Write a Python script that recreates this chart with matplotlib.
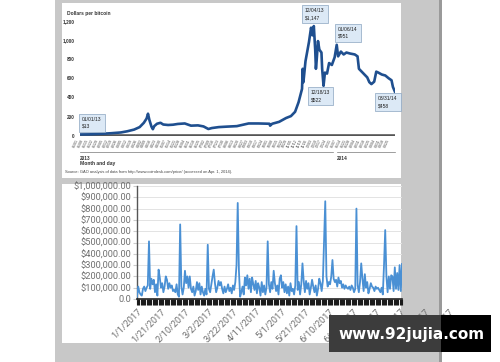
import pandas as pd
import matplotlib.pyplot as plt
import matplotlib.dates as mdates
from matplotlib.patches import Rectangle
from matplotlib.ticker import FuncFormatter

# Top chart: bitcoin price 2013-2014 (dollars per bitcoin)
btc_dates = ['2013-01-01', '2013-01-15', '2013-02-01', '2013-02-15', '2013-03-01', '2013-03-10',
             '2013-03-20', '2013-03-28', '2013-04-03', '2013-04-07', '2013-04-09', '2013-04-11',
             '2013-04-14', '2013-04-16', '2013-04-18', '2013-04-22', '2013-04-27', '2013-05-01',
             '2013-05-08', '2013-05-15', '2013-05-22', '2013-06-01', '2013-06-10', '2013-06-20',
             '2013-06-28', '2013-07-05', '2013-07-10', '2013-07-20', '2013-08-01', '2013-08-15',
             '2013-09-01', '2013-09-15', '2013-10-01', '2013-10-02', '2013-10-05', '2013-10-15',
             '2013-10-25', '2013-11-01', '2013-11-07', '2013-11-12', '2013-11-17', '2013-11-18',
             '2013-11-19', '2013-11-22', '2013-11-27', '2013-11-30', '2013-12-02', '2013-12-04',
             '2013-12-06', '2013-12-07', '2013-12-08', '2013-12-10', '2013-12-12', '2013-12-15',
             '2013-12-16', '2013-12-18', '2013-12-20', '2013-12-23', '2013-12-26', '2013-12-30',
             '2014-01-03', '2014-01-06', '2014-01-08', '2014-01-12', '2014-01-16', '2014-01-20',
             '2014-01-25', '2014-02-01', '2014-02-05', '2014-02-07', '2014-02-11', '2014-02-15',
             '2014-02-19', '2014-02-22', '2014-02-25', '2014-03-01', '2014-03-04', '2014-03-07',
             '2014-03-12', '2014-03-17', '2014-03-22', '2014-03-26', '2014-03-28', '2014-03-31']
btc_price = [13, 14, 20, 26, 34, 46,
             64, 90, 135, 180, 230, 165,
             95, 68, 100, 125, 135, 117,
             112, 115, 123, 128, 105, 108,
             97, 70, 80, 90, 95, 100,
             128, 128, 125, 105, 125, 145,
             185, 205, 250, 350, 490, 700,
             560, 780, 980, 1130, 1050, 1147,
             900, 700, 780, 990, 900, 870,
             700, 522, 660, 650, 760, 740,
             820, 951, 830, 880, 850, 870,
             860, 850, 830, 700, 670, 640,
             610, 560, 540, 565, 670, 660,
             640, 630, 600, 580, 510, 458]
btc_yticks = [0, 200, 400, 600, 800, 1000, 1200]
callouts = [('01/01/13', '$13'), ('12/04/13', '$1,147'), ('01/06/14', '$951'),
            ('12/18/13', '$522'), ('03/31/14', '$458')]

# Bottom chart: daily amounts from 1/1/2017 (thousands of dollars)
daily_k = [20, 110, 60, 40, 30, 90, 110, 70, 100, 120,
           510, 90, 180, 130, 170, 60, 130, 30, 260, 190,
           100, 140, 60, 110, 200, 170, 90, 140, 100, 120,
           70, 80, 60, 130, 40, 20, 660, 110, 40, 100,
           250, 140, 200, 100, 200, 90, 60, 110, 30, 70,
           150, 80, 140, 40, 110, 60, 30, 90, 40, 480,
           90, 60, 130, 200, 260, 140, 60, 100, 160, 120,
           150, 90, 50, 110, 60, 90, 130, 70, 100, 50,
           120, 80, 150, 300, 850, 250, 20, 60, 110, 40,
           190, 120, 210, 90, 180, 60, 190, 130, 80, 160,
           50, 140, 100, 30, 150, 60, 120, 40, 100, 510,
           130, 60, 150, 90, 250, 140, 70, 120, 40, 180,
           210, 100, 150, 60, 130, 50, 110, 30, 140, 70,
           90, 40, 120, 645, 80, 150, 40, 130, 315, 160,
           60, 160, 90, 140, 40, 100, 170, 110, 60, 120,
           30, 90, 180, 140, 70, 160, 500, 865, 200, 110,
           150, 130, 200, 345, 180, 150, 170, 110, 190, 140,
           160, 100, 130, 90, 120, 100, 90, 110, 80, 120,
           100, 60, 90, 800, 120, 60, 150, 315, 180, 70,
           220, 100, 150, 50, 90, 140, 110, 100, 70, 110,
           90, 100, 80, 60, 100, 40, 300, 610, 200, 60,
           200, 90, 210, 200, 70, 280, 90, 230, 80, 300,
           70, 310]
label_dates = pd.date_range('2017-01-01', periods=14, freq='20D')

W, H = 500, 362
fig = plt.figure(figsize=(5, 3.62), dpi=100)


def box(x0, y0, x1, y1, color, z):
    fig.patches.append(Rectangle((x0 / W, 1 - y1 / H), (x1 - x0) / W, (y1 - y0) / H,
                                 transform=fig.transFigure, facecolor=color,
                                 edgecolor='none', zorder=z))


# gray frame and white panels
box(55, 0, 441, 362, '#c8c8c8', -10)
box(439, 0, 442, 362, '#9a9a9a', -9)
box(62, 3, 401, 178, 'white', -8)
box(62, 184, 401, 343, 'white', -8)

# ---------------- top chart ----------------
ax1 = fig.add_axes([80 / W, 1 - 135.7 / H, 315 / W, 114.7 / H])
ax1.set_facecolor('none')
d1 = pd.to_datetime(btc_dates)
ax1.plot(d1, btc_price, color='#1f4f8f', lw=1.9, solid_joinstyle='round', zorder=3)
ax1.axhline(0, color='#555555', lw=2.6, zorder=2)
ax1.set_xlim(pd.Timestamp('2013-01-01'), pd.Timestamp('2014-03-31'))
ax1.set_ylim(0, 1200)
ax1.set_yticks(btc_yticks)
ax1.set_yticklabels([f'{v:,}' for v in btc_yticks], fontsize=3.4, fontweight='bold',
                    color='#333333', family='Liberation Sans')
ax1.tick_params(axis='y', length=0, pad=4)
weeks = pd.date_range('2013-01-01', '2014-03-31', freq='7D')
ax1.set_xticks(weeks)
ax1.set_xticklabels(weeks.strftime('%m/%d'), rotation=65, ha='right', fontsize=2.6,
                    color='#444444', family='Liberation Sans')
ax1.tick_params(axis='x', length=0, pad=2)
for s in ax1.spines.values():
    s.set_visible(False)

xt = ax1.get_xaxis_transform()
ax1.plot([pd.Timestamp('2013-01-01'), pd.Timestamp('2013-12-31')], [-0.142, -0.142],
         transform=xt, clip_on=False, color='#777777', lw=0.5)
ax1.plot([pd.Timestamp('2014-01-06'), pd.Timestamp('2014-03-31')], [-0.142, -0.142],
         transform=xt, clip_on=False, color='#777777', lw=0.5)
ax1.text(pd.Timestamp('2013-01-01'), -0.18, '2013', transform=xt, fontsize=3.4,
         fontweight='bold', color='#333333', va='top', family='Liberation Sans')
ax1.text(pd.Timestamp('2014-01-06'), -0.18, '2014', transform=xt, fontsize=3.4,
         fontweight='bold', color='#333333', va='top', family='Liberation Sans')
fig.text(80 / W, 1 - 164 / H, 'Month and day', fontsize=3.6, fontweight='bold',
         color='#333333', va='center', family='Liberation Sans')
fig.text(65 / W, 1 - 172 / H,
         'Source: GAO analysis of data from http://www.coindesk.com/price/ (accessed on Apr. 1, 2014).',
         fontsize=2.9, color='#444444', va='center', family='Liberation Sans')
fig.text(67 / W, 1 - 13 / H, 'Dollars per bitcoin', fontsize=3.5, fontweight='bold',
         color='#333333', va='center', family='Liberation Sans')

callout_pos = [(82, 117), (305, 8), (338, 27), (311, 90), (378, 96)]
for (dt, val), (px, py) in zip(callouts, callout_pos):
    fig.text(px / W, 1 - py / H, f'{dt}\n{val}', fontsize=3.6, color='#222222',
             va='top', ha='left', linespacing=1.5, family='Liberation Sans',
             bbox=dict(boxstyle='square,pad=0.6', facecolor='#dce9f6',
                       edgecolor='#8aa4c0', lw=0.5))

# ---------------- bottom chart ----------------
ax2 = fig.add_axes([137 / W, 1 - 299 / H, 265 / W, 113 / H])
ax2.set_facecolor('none')
d2 = pd.date_range('2017-01-01', periods=len(daily_k), freq='D')
vals = [v * 1000 for v in daily_k]
ax2.plot(d2, vals, color='#4a90d4', lw=1.3, zorder=3)
ax2.set_xlim(d2[0], d2[-1])
ax2.set_ylim(0, 1000000)
ax2.set_yticks(range(0, 1000001, 100000))
ax2.yaxis.set_major_formatter(FuncFormatter(lambda v, p: '0.0' if v == 0 else f'${v:,.2f}'))
ax2.tick_params(axis='y', labelsize=6.7, labelcolor='#707070', length=3, color='#cccccc', pad=1)
for lab in ax2.get_yticklabels():
    lab.set_family('Roboto')
ax2.grid(axis='y', color='#e3e3e3', lw=0.7)
ax2.set_axisbelow(True)
ax2.xaxis.set_major_locator(mdates.DayLocator())
ax2.tick_params(axis='x', length=4, width=0.8, color='#1a1a1a', labelbottom=False)
for s in ['top', 'right']:
    ax2.spines[s].set_visible(False)
ax2.spines['left'].set_color('#555555')
ax2.spines['left'].set_linewidth(1.0)
ax2.spines['bottom'].set_color('#222222')
ax2.spines['bottom'].set_linewidth(1.2)

xt2 = ax2.get_xaxis_transform()
for d in label_dates:
    ax2.text(d, -0.07, f'{d.month}/{d.day}/{d.year}', transform=xt2, clip_on=False,
             rotation=45, rotation_mode='anchor', ha='right', va='top', fontsize=6.6,
             color='#6e6e6e', family='Roboto')

# watermark
box(329, 315, 441, 352, '#3c3c3c', 10)
box(441, 315, 491, 352, '#000000', 10)
fig.text(338 / W, 1 - 334 / H, 'www.92jujia.com', fontsize=11, fontweight='bold',
         color='white', va='center', ha='left', zorder=11, family='DejaVu Sans')

fig.savefig('out.png', dpi=100)
